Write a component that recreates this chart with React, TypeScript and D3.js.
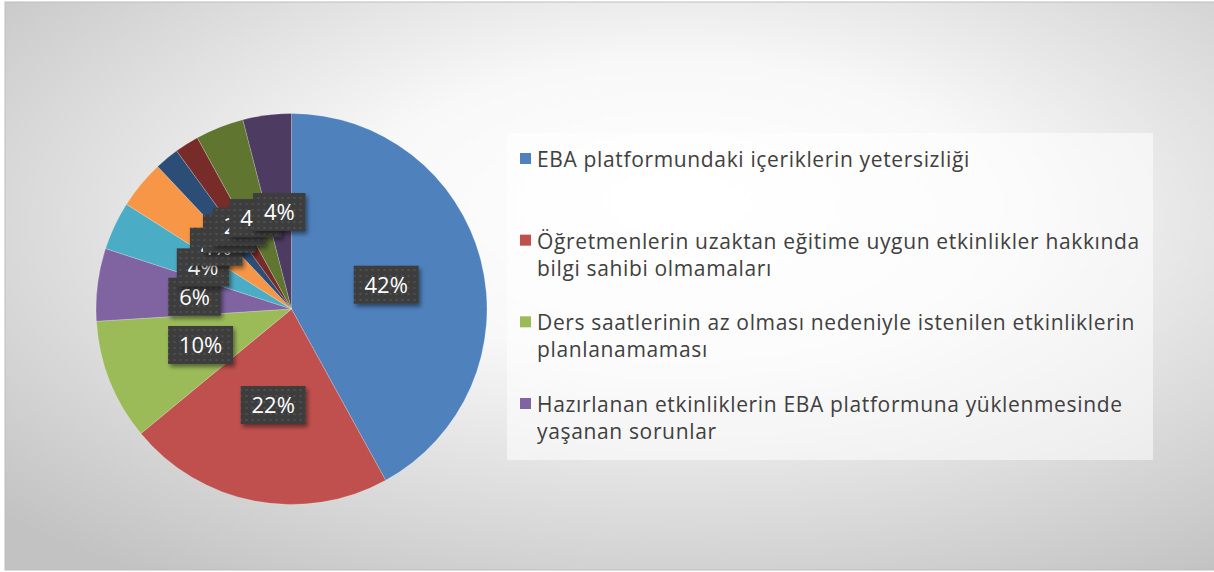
import React from 'react';
import * as d3 from 'd3';

const values = [42, 22, 10, 6, 4, 4, 2, 2, 4, 4];
const sliceColors = ['#4F81BD', '#C0504D', '#9BBB59', '#8064A2', '#4BACC6', '#F79646', '#2C4D75', '#772C2A', '#5F7530', '#4D3B62'];
const legendLabels = [
  ['EBA platformundaki içeriklerin yetersizliği'],
  ['Öğretmenlerin uzaktan eğitime uygun etkinlikler hakkında', 'bilgi sahibi olmamaları'],
  ['Ders saatlerinin az olması nedeniyle istenilen etkinliklerin', 'planlanamaması'],
  ['Hazırlanan etkinliklerin EBA platformuna yüklenmesinde', 'yaşanan sorunlar'],
];

const W = 1214, H = 572;
const FONT = '"Open Sans", Lato, sans-serif';

export default function App() {
  const cx = 291.5, cy = 309, R = 195.5;
  const total = d3.sum(values);
  const pie = d3.pie<number>().sort(null).value(d => d);
  const arcs = pie(values);
  const arc = d3.arc<d3.PieArcDatum<number>>().innerRadius(0).outerRadius(R);

  const legendY = d3.scalePoint<number>().domain(d3.range(legendLabels.length)).range([167, 412]);

  return (
    <div>
      <style>{`body{margin:0}`}</style>
      <svg width={W} height={H} style={{ display: 'block' }}>
        <defs>
          <radialGradient id="bg" cx="0.55" cy="0.4" r="0.75" fx="0.55" fy="0.35">
            <stop offset="0" stopColor="#ffffff" />
            <stop offset="0.35" stopColor="#f8f8f8" />
            <stop offset="1" stopColor="#c2c2c2" />
          </radialGradient>
          <pattern id="dots" width="6" height="6" patternUnits="userSpaceOnUse">
            <rect width="6" height="6" fill="#3d3d3d" />
            <circle cx="3" cy="3" r="1" fill="#555555" />
          </pattern>
          <filter id="shadow" x="-20%" y="-20%" width="150%" height="160%">
            <feDropShadow dx="2" dy="3" stdDeviation="2" floodColor="#000" floodOpacity="0.45" />
          </filter>
        </defs>
        <rect x={5} y={2} width={1220} height={568} fill="url(#bg)" stroke="#bdbdbd" strokeWidth={1} />
        <g transform={`translate(${cx},${cy})`}>
          {arcs.map((a, i) => (
            <path key={i} d={arc(a) || ''} fill={sliceColors[i]} stroke="#ffffff" strokeOpacity={0.35} strokeWidth={0.6} />
          ))}
          {arcs.map((a, i) => {
            const [lx, ly] = arc.centroid(a);
            const txt = `${Math.round((a.data / total) * 100)}%`;
            const digits = txt.length - 1;
            const bw = 18 + digits * 12.5 + 22;
            const bh = 38;
            return (
              <g key={'l' + i}>
                <rect x={lx - bw / 2} y={ly - bh / 2} width={bw} height={bh} fill="url(#dots)" filter="url(#shadow)" />
                <text x={lx} y={ly} dy="0.36em" textAnchor="middle" fill="#ffffff" fontFamily={FONT} fontSize={22}>{txt}</text>
              </g>
            );
          })}
        </g>
        <rect x={507} y={133} width={646} height={327} fill="#ffffff" fillOpacity={0.55} />
        {legendLabels.map((lines, i) => {
          const y = legendY(i) as number;
          return (
            <g key={'lg' + i}>
              <rect x={520} y={y - 14} width={11} height={11} fill={sliceColors[i]} />
              <text x={537} y={y} fill="#404040" fontFamily={FONT} fontSize={21} letterSpacing={0.65}>
                {lines.map((t, j) => (
                  <tspan key={j} x={537} dy={j === 0 ? 0 : 27}>{t}</tspan>
                ))}
              </text>
            </g>
          );
        })}
      </svg>
    </div>
  );
}
